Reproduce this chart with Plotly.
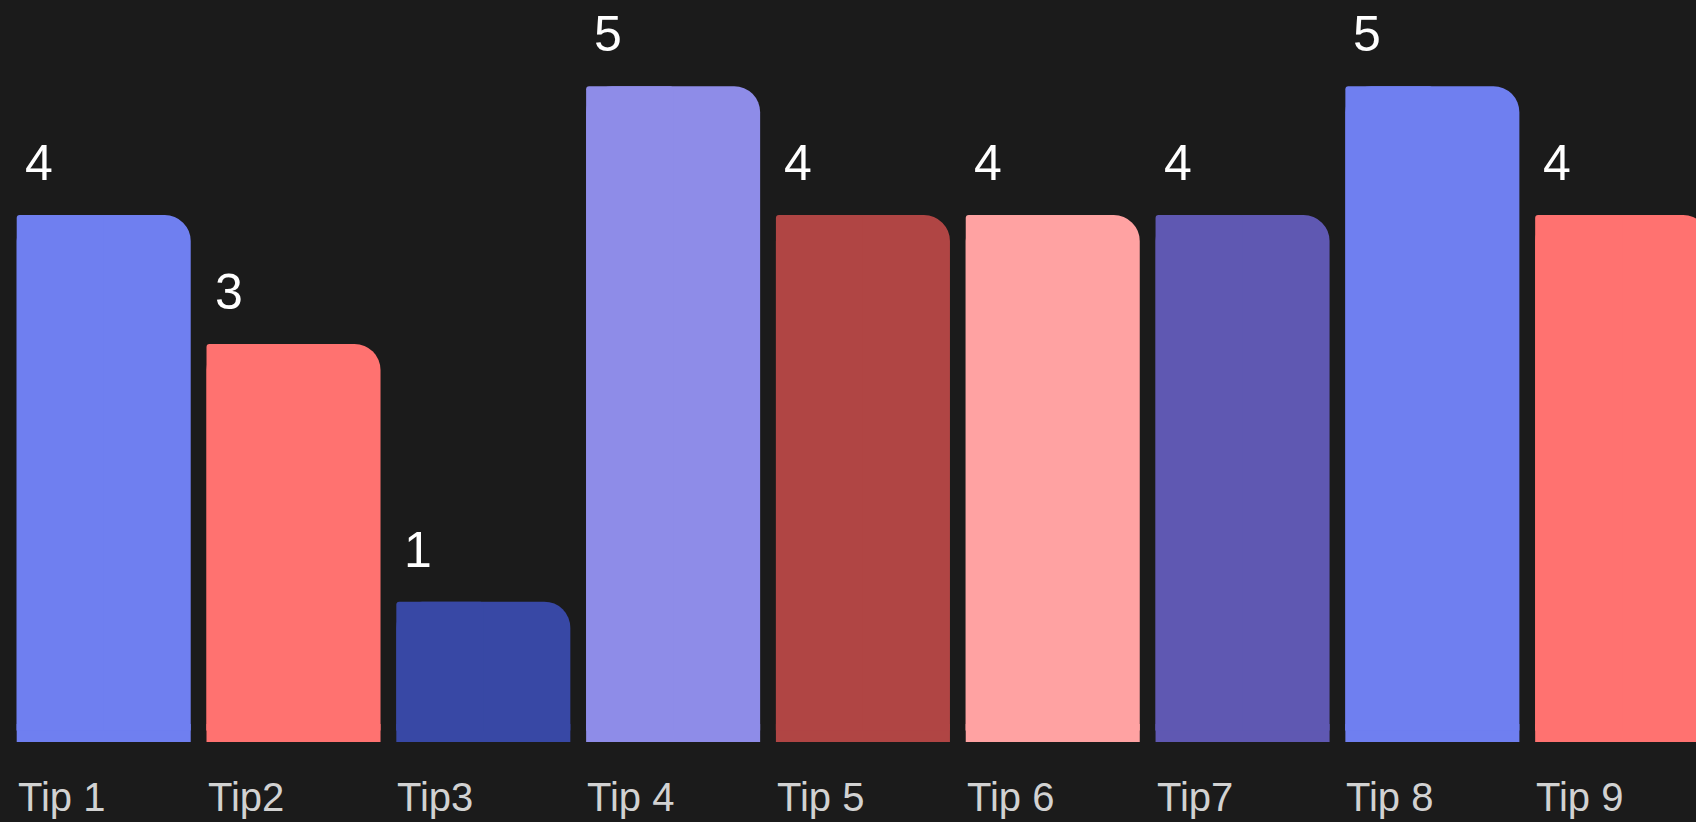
import plotly.graph_objects as go

categories = ["Tip 1", "Tip2", "Tip3", "Tip 4", "Tip 5", "Tip 6", "Tip7", "Tip 8", "Tip 9"]
values = [4, 3, 1, 5, 4, 4, 4, 5, 4]
colors = ["#6f7ff0", "#ff7270", "#3848a5", "#8e8ce8", "#b04544",
          "#ffa2a2", "#5f58b2", "#6f7ff0", "#ff7270"]

BG = "#1b1b1b"
BAR_W = 0.9168
FOOT_BASE = -0.3
idx = list(range(len(categories)))

fig = go.Figure()
# small "foot" below zero so the bars sit slightly below the value baseline
fig.add_trace(go.Bar(
    x=idx, y=[0.35] * len(idx), base=FOOT_BASE, width=BAR_W, offset=-BAR_W / 2,
    marker=dict(color=colors, line=dict(width=0)),
    hoverinfo="skip", showlegend=False,
))
# main bar with large rounded top corners
fig.add_trace(go.Bar(
    x=idx, y=values, width=BAR_W, offset=-BAR_W / 2,
    marker=dict(color=colors, cornerradius=26, line=dict(width=0)),
    hoverinfo="skip", showlegend=False,
))
# left half with small corner radius (keeps the top-left corner nearly square)
fig.add_trace(go.Bar(
    x=idx, y=values, width=BAR_W / 2, offset=-BAR_W / 2,
    marker=dict(color=colors, cornerradius=3, line=dict(width=0)),
    hoverinfo="skip", showlegend=False,
))

annotations = []
for i, (c, v) in enumerate(zip(categories, values)):
    annotations.append(dict(
        x=i, y=v, xref="x", yref="y", text=str(v), showarrow=False,
        xanchor="left", yanchor="bottom", xshift=-81, yshift=22,
        font=dict(family="Liberation Sans, Arial, sans-serif", size=50, color="#ffffff"),
    ))
    annotations.append(dict(
        x=i, y=0, xref="x", yref="paper", text=c, showarrow=False,
        xanchor="left", yanchor="top", xshift=-88, yshift=-31,
        font=dict(family="Liberation Sans, Arial, sans-serif", size=40, color="#d2d2d2"),
    ))

fig.update_layout(
    width=1696, height=822,
    margin=dict(l=0, r=0, t=0, b=80),
    paper_bgcolor=BG, plot_bgcolor=BG,
    barmode="overlay",
    xaxis=dict(range=[-0.5464, 8.389], showgrid=False, zeroline=False,
               showticklabels=False, showline=False, fixedrange=True),
    yaxis=dict(range=[-0.0893, 5.669], showgrid=False, zeroline=False,
               showticklabels=False, showline=False, fixedrange=True),
    annotations=annotations,
)

fig.write_html("out.html", config={"displayModeBar": False})
